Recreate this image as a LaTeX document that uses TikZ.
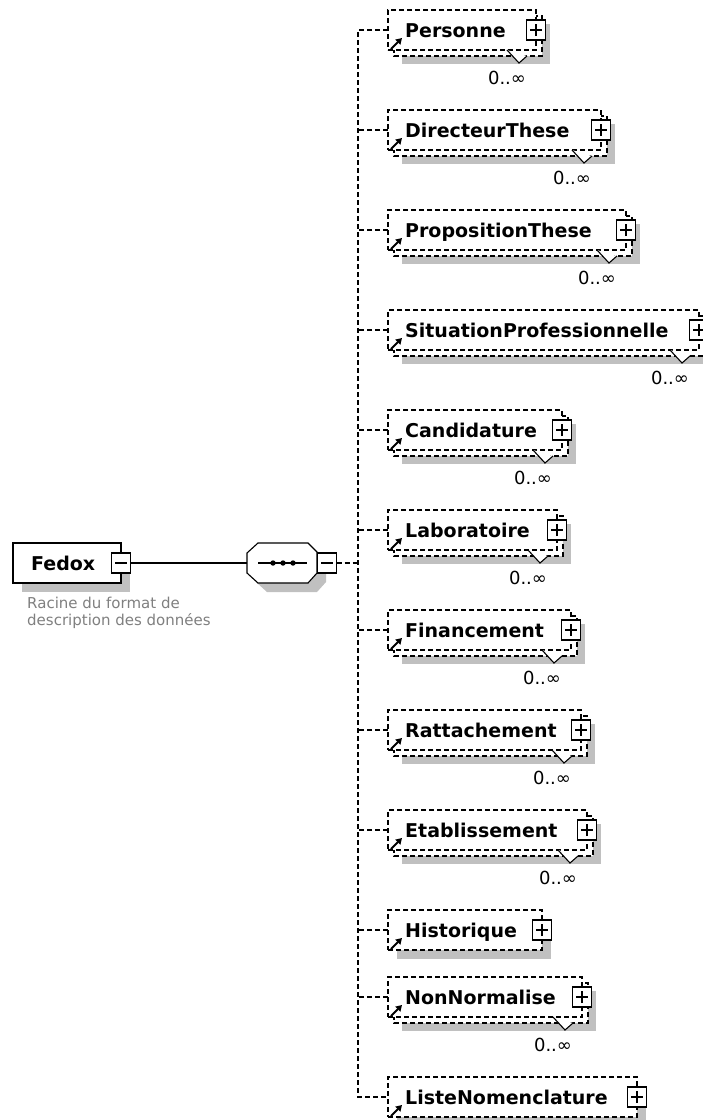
\documentclass[tikz,border=0pt]{standalone}
\usepackage{fontspec}
\setmainfont{DejaVu Sans}
\usetikzlibrary{arrows.meta,calc}
\definecolor{shadowgray}{RGB}{192,192,192}
\definecolor{notegray}{RGB}{128,128,128}
\tikzset{
  conn/.style={line width=1.1pt},
  dline/.style={line width=1.1pt, dash pattern=on 5pt off 3pt},
  frontbox/.style={rectangle, draw, fill=white, dline, minimum height=40pt, inner sep=0pt, outer sep=0pt, anchor=west},
  backbox/.style={draw, fill=white, dline},
  shade/.style={fill=shadowgray},
  pmbox/.style={rectangle, draw, fill=white, line width=1.1pt, solid, minimum width=19pt, minimum height=20pt, inner sep=0pt, outer sep=0pt},
  elname/.style={font=\fontsize{19}{22}\selectfont\bfseries, inner sep=0pt, anchor=base west},
  multlabel/.style={font=\fontsize{18}{20}\selectfont, inner sep=0pt, anchor=base},
  refarrow/.style={line width=2pt, -{Triangle[length=6pt,width=7pt]}},
}
\newcommand\ElemParts[4]{%
  \node[pmbox] (#1p) at (#3,#2) {};
  \draw[conn] ([xshift=-6pt]#1p.center) -- ([xshift=6pt]#1p.center);
  \draw[conn] ([yshift=-6pt]#1p.center) -- ([yshift=6pt]#1p.center);
  \draw[refarrow] (391,#2+19) -- (402,#2+8);
  \node[elname] (#1t) at (405,#2+7) {#4};
}
\newcommand\RepElem[4]{% name, y, right edge, text
  \fill[shade] (402,#2-6) rectangle (#3+14,#2+34);
  \draw[backbox] (394,#2-14) rectangle (#3+6,#2+26);
  \node[frontbox, minimum width={#3-388}] (#1) at (388,#2) {};
  \fill[white] (#3-29,#2+20) -- (#3-17,#2+33) -- (#3-9,#2+26) -- cycle;
  \draw[conn] (#3-29,#2+20) -- (#3-17,#2+33) -- (#3-9,#2+26);
  \ElemParts{#1}{#2}{#3}{#4}
  \node[multlabel] (#1m) at (#3-29,#2+54) {0..∞};
}
\newcommand\OneElem[4]{% name, y, right edge, text
  \fill[shade] (397,#2-11) rectangle (#3+9,#2+29);
  \node[frontbox, minimum width={#3-388}] (#1) at (388,#2) {};
  \ElemParts{#1}{#2}{#3}{#4}
}
\newcommand\OctPath[2]{(#1-24,#2-20) -- (#1+26,#2-20) -- (#1+35,#2-11) -- (#1+35,#2+10) -- (#1+26,#2+20) -- (#1-24,#2+20) -- (#1-35,#2+10) -- (#1-35,#2-10) -- cycle}
\begin{document}
\begin{tikzpicture}[x=1pt,y=-1pt]
\useasboundingbox (0,0) rectangle (703,1120);
\clip (0,0) rectangle (703,1120);
\fill[white] (0,0) rectangle (703,1120);

% root element
\fill[shade] (22,552) rectangle (130,592);
\node[rectangle, draw, fill=white, line width=1.2pt, minimum width=108pt, minimum height=40pt, inner sep=0pt, outer sep=0pt] (fedox) at (67,563) {};
\node[font=\fontsize{19}{22}\selectfont\bfseries, inner sep=0pt, anchor=base west] (fedoxt) at (31,570) {Fedox};
\node[pmbox] (fedoxm) at (121,563) {};
\draw[conn] ([xshift=-6pt]fedoxm.center) -- ([xshift=6pt]fedoxm.center);
\node[font=\fontsize{15}{17}\selectfont, text=notegray, align=left, anchor=north west, inner sep=0pt] (note) at (27,597) {Racine du format de\\description des données};

% sequence compositor
\fill[shade] \OctPath{291}{572};
\draw[conn, fill=white] \OctPath{282}{563};
\node[minimum width=70pt, minimum height=40pt, inner sep=0pt, outer sep=0pt] (seq) at (282,563) {};
\draw[conn] (258,563) -- (307,563);
\fill (273,563) circle (2.7pt) (283,563) circle (2.7pt) (293,563) circle (2.7pt);
\node[pmbox] (seqm) at (327,563) {};
\draw[conn] ([xshift=-6pt]seqm.center) -- ([xshift=6pt]seqm.center);
\draw[conn] (fedoxm.east) -- (seq.west);

% child elements
\RepElem{per}{30}{536}{Personne}
\RepElem{dir}{130}{601}{DirecteurThese}
\RepElem{pro}{230}{626}{PropositionThese}
\RepElem{sit}{330}{699}{SituationProfessionnelle}
\RepElem{can}{430}{562}{Candidature}
\RepElem{lab}{530}{557}{Laboratoire}
\RepElem{fin}{630}{571}{Financement}
\RepElem{rat}{730}{581}{Rattachement}
\RepElem{eta}{830}{587}{Etablissement}
\OneElem{his}{930}{542}{Historique}
\RepElem{non}{997}{582}{NonNormalise}
\OneElem{lis}{1097}{637}{ListeNomenclature}

% connectors
\coordinate (trunk) at (358,563);
\draw[dline] (seqm.east) -- (trunk);
\draw[dline] (per.west) -| (trunk) |- (lis.west);
\foreach \n in {dir,pro,sit,can,lab,fin,rat,eta,his,non}
  \draw[dline] (\n.west) -- (trunk |- \n.west);
\end{tikzpicture}
\end{document}
